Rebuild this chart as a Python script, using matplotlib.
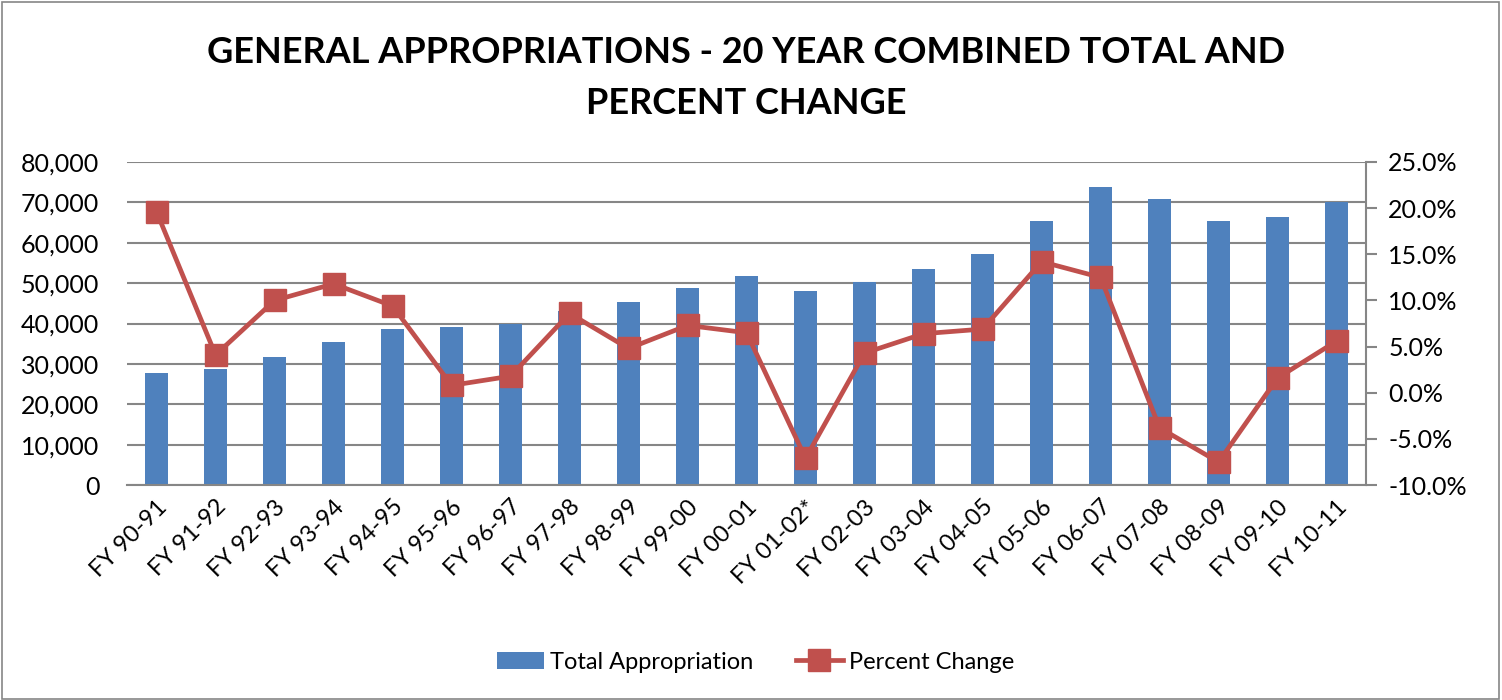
import matplotlib
matplotlib.use("Agg")
import matplotlib.pyplot as plt
from matplotlib.ticker import FuncFormatter, MultipleLocator
from matplotlib.patches import Rectangle
import numpy as np

categories = ["FY 90-91", "FY 91-92", "FY 92-93", "FY 93-94", "FY 94-95", "FY 95-96",
              "FY 96-97", "FY 97-98", "FY 98-99", "FY 99-00", "FY 00-01", "FY 01-02*",
              "FY 02-03", "FY 03-04", "FY 04-05", "FY 05-06", "FY 06-07", "FY 07-08",
              "FY 08-09", "FY 09-10", "FY 10-11"]
total_appropriation = [27700, 28700, 31600, 35400, 38600, 39100, 39900, 43100, 45300, 48700,
                       51800, 48100, 50200, 53500, 57200, 65400, 73700, 70800, 65400, 66500, 70200]
percent_change = [19.6, 4.1, 10.0, 11.8, 9.4, 0.8, 1.8, 8.6, 4.8, 7.3, 6.5, -7.1, 4.3, 6.4,
                  6.9, 14.2, 12.5, -3.8, -7.5, 1.6, 5.6]

plt.rcParams['font.family'] = ['Lato', 'DejaVu Sans']

fig = plt.figure(figsize=(15.02, 7.0), dpi=100)
ax = fig.add_axes([0.0846, 0.307, 0.9095 - 0.0846, 0.7686 - 0.307])
ax2 = ax.twinx()

x = np.arange(len(categories))
bars = ax.bar(x, total_appropriation, width=0.4, color="#4F81BD", zorder=2, label="Total Appropriation")
ax.set_ylim(0, 80000)
ax.set_xlim(-0.5, len(categories) - 0.5)
ax.yaxis.set_major_locator(MultipleLocator(10000))
ax.yaxis.set_major_formatter(FuncFormatter(lambda v, p: f"{int(v):,}"))
ax.grid(axis="y", color="#868686", linewidth=1.5, zorder=0)
ax.set_axisbelow(True)
ax.set_xticks(x)
ax.set_xticklabels(categories, rotation=45, ha="right", rotation_mode="anchor", fontsize=17)
ax.tick_params(axis="y", labelsize=18, length=0, pad=20)
ax.tick_params(axis="x", length=0, pad=8)
for s in ["top", "left", "right"]:
    ax.spines[s].set_visible(False)
ax.spines["bottom"].set_color("#868686")
ax.spines["bottom"].set_linewidth(1.5)

line, = ax2.plot(x, percent_change, color="#C0504D", linewidth=3.4, marker="s",
                 markersize=15.5, zorder=3, label="Percent Change")
ax2.set_ylim(-10, 25)
ax2.yaxis.set_major_locator(MultipleLocator(5))
ax2.yaxis.set_major_formatter(FuncFormatter(lambda v, p: f"{v:.1f}%"))
ax2.tick_params(axis="y", labelsize=18, length=8, width=1.5, color="#868686", direction="out", pad=8)
for s in ["top", "left", "bottom"]:
    ax2.spines[s].set_visible(False)
ax2.spines["right"].set_color("#868686")
ax2.spines["right"].set_linewidth(1.5)

fig.text(0.497, 0.925, "GENERAL APPROPRIATIONS - 20 YEAR COMBINED TOTAL AND",
         ha="center", va="center", fontsize=26, fontweight="bold")
fig.text(0.497, 0.852, "PERCENT CHANGE", ha="center", va="center", fontsize=26, fontweight="bold")

fig.legend([bars, line], ["Total Appropriation", "Percent Change"], loc="center",
           bbox_to_anchor=(0.503, 0.054), ncol=2, frameon=False, fontsize=17,
           handlelength=2.0, columnspacing=1.8, handletextpad=0.25)

fig.patches.append(Rectangle((0.001, 0.002), 0.997, 0.995, transform=fig.transFigure,
                             fill=False, edgecolor="#868686", linewidth=1.2))

fig.savefig("out.png", dpi=100)
